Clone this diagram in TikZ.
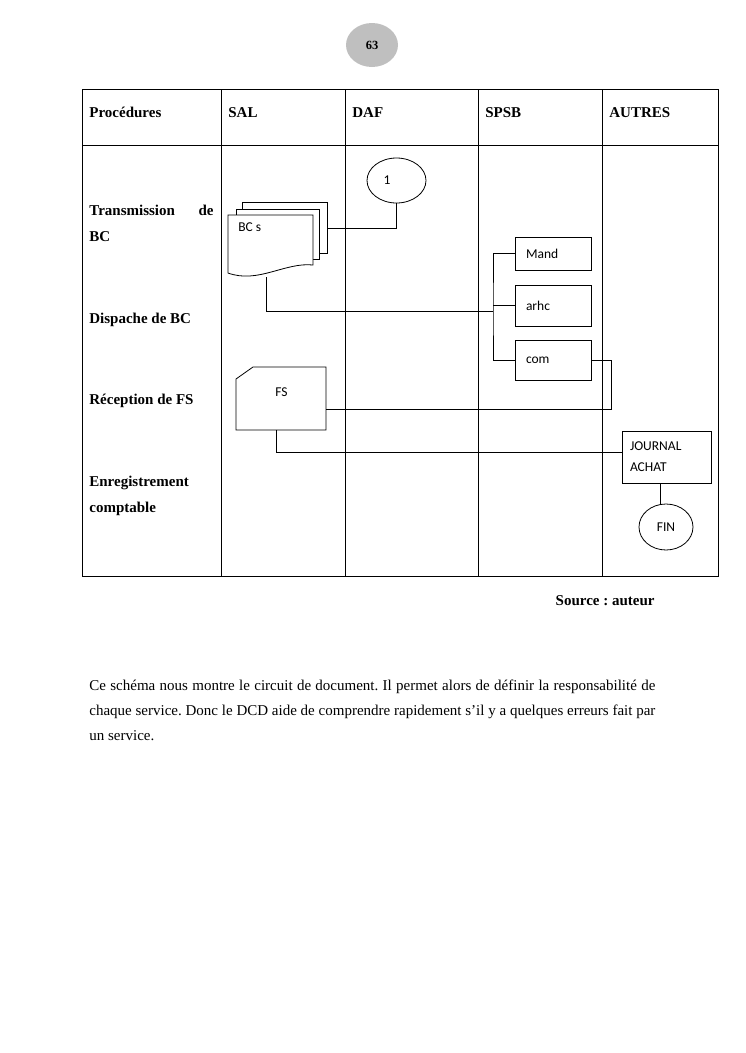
\documentclass[tikz,border=0pt]{standalone}
\usepackage{fontspec}
\setmainfont{Liberation Serif}
\newfontfamily\calib{Carlito}
\usetikzlibrary{positioning,shapes.geometric}
\frenchspacing

\begin{document}
\begin{tikzpicture}[x=1pt,y=-1pt,line width=0.8pt,
  head/.style={anchor=base west,inner sep=0,font=\bfseries\fontsize{15}{20}\selectfont},
  lbl/.style={anchor=base west,inner sep=0,font=\calib\fontsize{13.5}{21}\selectfont},
  box/.style={draw,align=left,inner xsep=11,inner ysep=0,font=\calib\fontsize{13.5}{21}\selectfont},
  oval/.style={draw,ellipse,inner sep=0,font=\calib\fontsize{13.5}{21}\selectfont}]
\useasboundingbox (0,0) rectangle (745,1053);

% page number
\node[ellipse,fill=black!25,minimum width=52,minimum height=44] (page) at (372,45) {\bfseries\fontsize{12.5}{14}\selectfont 63};

% table
\draw (82,89) rectangle (718,576);
\draw (82,145) -- (718,145);
\draw (221,89) -- (221,576) (345,89) -- (345,576) (478,89) -- (478,576) (602,89) -- (602,576);

\node[head] (hproc) at (89,117) {Procédures};
\node[head] (hsal) at (228,117) {SAL};
\node[head] (hdaf) at (352,117) {DAF};
\node[head] (hspsb) at (485,117) {SPSB};
\node[head] (hautres) at (609,117) {AUTRES};

\node[head] (ptrans) at (89,215) {Transmission};
\node[head,anchor=base east] (pde) at (214,215) {de};
\node[head] (pbc) at (89,241) {BC};
\node[head] (pdisp) at (89,323) {Dispache de BC};
\node[head] (precep) at (89,404) {Réception de FS};
\node[head] (penreg) at (89,486) {Enregistrement};
\node[head] (pcompt) at (89,512) {comptable};

% BC s stack
\draw[fill=white] (242,202) rectangle (327,253);
\draw[fill=white] (236,209) rectangle (319,259);
\draw[fill=white] (228,215) -- (313,215) -- (313,265) .. controls (285,262) and (258,284) .. (228,273) -- cycle;
\node[lbl] (bcs) at (238,231) {BC s};
\coordinate (bcback) at (327,228);
\coordinate (bcfoot) at (266,277);

\node[oval,minimum width=59,minimum height=45,text width=26,align=left] (one) at (396.5,180.5) {1};
\draw (bcback) -| (one.south);

% SPSB
\node[box,text width=54,minimum height=33] (mand) at (553,253.5) {Mand};
\node[box,text width=54,minimum height=41] (arhc) at (553,305.5) {arhc};
\node[box,text width=54,minimum height=40] (com) at (553,360) {com};
\coordinate (fork) at (493,311);
\draw (bcfoot) |- (fork);
\draw (mand.west) -| (fork) |- (com.west);
\draw (arhc.west) -- (arhc.west -| fork);

% FS
\draw (253,367) -- (326,367) -- (326,430) -- (236,430) -- (236,379) -- cycle;
\node[lbl] (fs) at (275,396) {FS};
\coordinate (fsout) at (326,409);
\coordinate (fsfoot) at (276,430);
\draw (com.east) -- ++(20,0) |- (fsout);

% AUTRES
\node[box,inner xsep=8,text width=73,minimum height=52] (journal) at (666.5,457) {JOURNAL\\ACHAT};
\node[oval,minimum width=54,minimum height=46] (fin) at (666,527) {FIN};
\draw (fsfoot) |- ([yshift=5]journal.west);
\draw ([xshift=-6.5]journal.south) -- ([xshift=-6.5]journal.south |- fin.north);

\node[head,anchor=base east] (source) at (655,605) {Source : auteur};

\node[anchor=north west,inner sep=0,text width=566,align=justify,font=\fontsize{15}{25}\selectfont] (para) at (89,680) {Ce schéma nous montre le circuit de document. Il permet alors de définir la responsabilité de\linebreak chaque service. Donc le DCD aide de comprendre rapidement s’il y a quelques erreurs fait par\linebreak un service.};
\end{tikzpicture}
\end{document}
